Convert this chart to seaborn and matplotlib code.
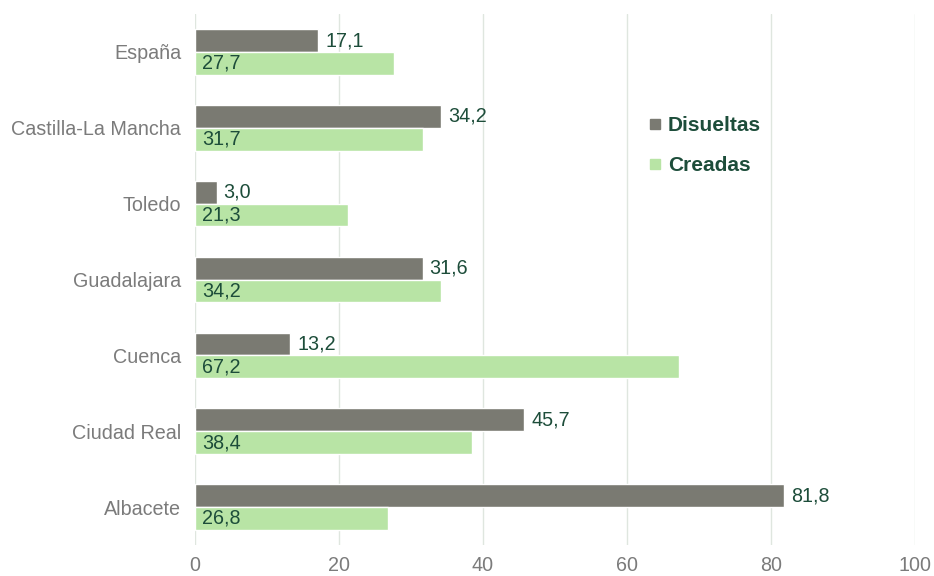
import pandas as pd
import matplotlib.pyplot as plt
from matplotlib.lines import Line2D
import seaborn as sns

sns.set_theme(style="white")
plt.rcParams['font.family'] = ['Liberation Sans', 'DejaVu Sans']

# data
regions = ['España', 'Castilla-La Mancha', 'Toledo', 'Guadalajara',
           'Cuenca', 'Ciudad Real', 'Albacete']
disueltas = [17.1, 34.2, 3.0, 31.6, 13.2, 45.7, 81.8]
creadas = [27.7, 31.7, 21.3, 34.2, 67.2, 38.4, 26.8]
series = ['Disueltas', 'Creadas']

gray = '#7a7a72'
green = '#b8e4a5'
text_green = '#1d4d3a'
tick_gray = '#7b7b7b'

df = pd.DataFrame({
    'Region': regions * 2,
    'Serie': ['Disueltas'] * len(regions) + ['Creadas'] * len(regions),
    'Valor': disueltas + creadas,
})

fig = plt.figure(figsize=(9.34, 5.76), dpi=100)
ax = fig.add_axes([0.2088, 0.0538, 0.7709, 0.9219])

sns.barplot(data=df, y='Region', x='Valor', hue='Serie', order=regions,
            hue_order=series, palette=[gray, green], orient='h', width=0.6,
            edgecolor='white', linewidth=1.0, saturation=1, legend=False, ax=ax)

ax.set_xlim(0, 100)
ax.set_xticks(range(0, 101, 20))
ax.set_ylim(len(regions) - 0.5, -0.5)
ax.set_xlabel('')
ax.set_ylabel('')
ax.grid(axis='x', color='#dfe6df', linewidth=1)
ax.set_axisbelow(True)
for s in ax.spines.values():
    s.set_visible(False)
ax.tick_params(axis='both', length=0, labelsize=14.2, labelcolor=tick_gray)
ax.tick_params(axis='y', pad=10)
ax.tick_params(axis='x', pad=8)

fmt = lambda v: f"{v:.1f}".replace('.', ',')

# Disueltas: labels just past the bar end
ax.bar_label(ax.containers[0], labels=[fmt(v) for v in disueltas],
             padding=5, fontsize=14.2, color=text_green)
# Creadas: labels inside the bar, at its base
for p, v in zip(ax.containers[1], creadas):
    ax.text(1.0, p.get_y() + p.get_height() / 2, fmt(v), ha='left',
            va='center', fontsize=14.2, color=text_green)

handles = [Line2D([], [], marker='s', linestyle='', markersize=7.5,
                  color=c) for c in (gray, green)]
leg = ax.legend(handles, series, loc='upper left', bbox_to_anchor=(0.596, 0.843),
                frameon=False, handletextpad=0.0, handlelength=1.2,
                labelspacing=1.0, prop={'size': 15, 'weight': 'bold'})
for t in leg.get_texts():
    t.set_color(text_green)

fig.savefig('out.png', dpi=100)
